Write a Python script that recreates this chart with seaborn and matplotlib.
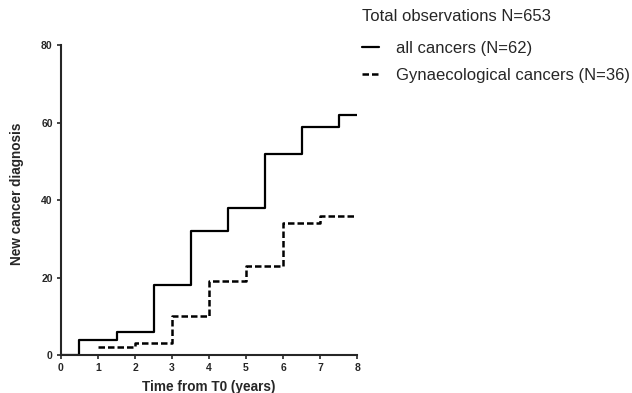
import pandas as pd
import matplotlib
matplotlib.use("Agg")
import matplotlib.pyplot as plt
import seaborn as sns

# cumulative new cancer diagnoses (step data)
all_years = [0, 0.5, 1.5, 2.5, 3.5, 4.5, 5.5, 6.5, 7.5, 8]
all_counts = [0, 4, 6, 18, 32, 38, 52, 59, 62, 62]
gyn_years = [1, 2, 3, 4, 5, 6, 7, 8]
gyn_counts = [2, 3, 10, 19, 23, 34, 36, 36]

x_ticks = list(range(0, 9))
y_ticks = [0, 20, 40, 60, 80]

sns.set_style("ticks")
plt.rcParams['font.family'] = ['Liberation Sans', 'DejaVu Sans']

df_all = pd.DataFrame({"year": all_years, "count": all_counts})
df_gyn = pd.DataFrame({"year": gyn_years, "count": gyn_counts})

fig = plt.figure(figsize=(6.32, 3.93), dpi=100)
ax = fig.add_axes([0.0965, 0.0967, 0.4685, 0.788])

sns.lineplot(data=df_all, x="year", y="count", ax=ax, color="black", lw=1.6,
             drawstyle="steps-post", label="all cancers (N=62)")
sns.lineplot(data=df_gyn, x="year", y="count", ax=ax, color="black", lw=1.8,
             drawstyle="steps-post",
             label="Gynaecological cancers (N=36)")
ax.lines[1].set_linestyle((0, (2.6, 1.2)))

ax.set_xlim(0, 8)
ax.set_ylim(0, 80)
ax.set_xticks(x_ticks)
ax.set_yticks(y_ticks)
ax.set_xlabel("Time from T0 (years)", fontsize=9.8, fontweight="bold", labelpad=5)
ax.set_ylabel("New cancer diagnosis", fontsize=9.8, fontweight="bold")
ax.yaxis.set_label_coords(-0.125, 0.52)
for lab in ax.get_xticklabels() + ax.get_yticklabels():
    lab.set_fontweight("bold")
ax.tick_params(labelsize=7.5, width=1.2, length=3, pad=3)
sns.despine(ax=ax)
for s in ["left", "bottom"]:
    ax.spines[s].set_linewidth(1.5)
    ax.spines[s].set_clip_on(False)

leg = ax.legend(loc="upper left", bbox_to_anchor=(0.995, 1.14), frameon=False,
                title="Total observations N=653", alignment="left",
                fontsize=12, title_fontsize=12, handlelength=1.0,
                handletextpad=1.0, borderaxespad=0, labelspacing=0.7)
leg._legend_box.align = "left"
leg._legend_box.sep = 0.7 * 12 + 4

fig.savefig("out.png", dpi=100)
